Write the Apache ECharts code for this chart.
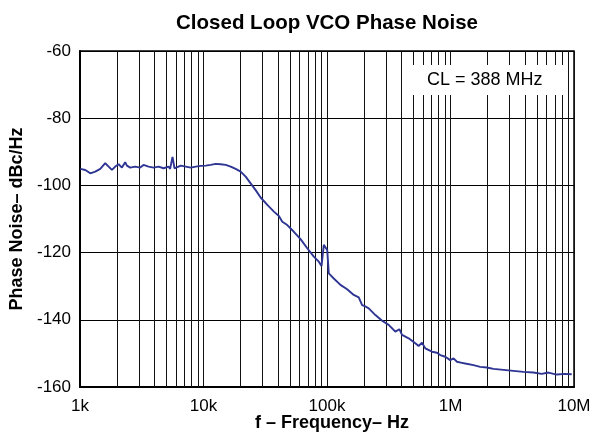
<!DOCTYPE html>
<html>
<head>
<meta charset="utf-8">
<script src="https://cdn.jsdelivr.net/npm/echarts@6/dist/echarts.min.js"></script>
<style>html,body{margin:0;padding:0;background:#fff;}#c{width:595px;height:441px;}</style>
</head>
<body>
<div id="c"></div>
<script>
// Frequency (Hz) and phase noise (dBc/Hz)
const freqHz = [1006,1104,1211,1329,1459,1601,1706,1814,1929,2054,2185,2323,2398,2550,2798,3071,3271,3592,3941,4325,4747,5209,5366,5611,5824,5967,6549,7187,7889,8658,9502,10430,11440,12560,13780,15130,16600,18220,20000,21950,24090,26440,29010,32870,37160,40780,43450,47690,53920,61070,69180,78220,85850,90280,94220,97250,100400,103400,113500,128500,145600,164700,180700,186600,192500,202100,217700,246600,279300,315800,357700,385400,405300,458100,519100,551900,587900,625200,708300,777300,826500,907100,995400,1058000,1128000,1238000,1316000,1358000,1536000,1740000,1970000,2228000,2684000,3232000,3894000,4690000,5483000,6199000,7248000,8459000,9581000];
const noiseDb = [-95.1,-95.4,-96.4,-95.9,-95.1,-93.4,-94.4,-95.4,-94.4,-93.7,-94.7,-93.1,-94.1,-94.7,-94.4,-94.7,-93.9,-94.4,-94.7,-94.4,-94.9,-94.4,-95.1,-91.5,-94.9,-94.7,-94.1,-94.4,-94.7,-94.4,-94.2,-94.1,-93.9,-93.6,-93.7,-93.9,-94.4,-95.1,-95.9,-97.4,-99.4,-101.4,-103.6,-105.8,-107.8,-109.1,-110.8,-111.8,-113.8,-116.0,-118.7,-121.2,-122.7,-124.0,-117.7,-117.4,-119.2,-126.2,-127.7,-129.6,-130.9,-132.6,-133.3,-133.6,-135.6,-135.9,-136.6,-138.6,-140.3,-141.5,-143.5,-142.8,-144.5,-145.5,-147.0,-147.8,-146.8,-148.5,-149.5,-149.8,-150.5,-151.0,-152.0,-151.5,-152.5,-152.8,-153.0,-153.5,-153.5,-154.0,-154.2,-154.6,-154.9,-155.2,-155.5,-155.7,-156.1,-155.7,-156.3,-156.1,-156.2];
const xTickValues = [1000,10000,100000,1000000,10000000];
const xTickLabels = ['1k','10k','100k','1M','10M'];
const minorMultipliers = [2,3,4,5,6,7,8,9];
const annotationText = 'CL = 388 MHz';
const titleText = 'Closed Loop VCO Phase Noise';
const xName = 'f \u2013 Frequency\u2013 Hz';
const yName = 'Phase Noise\u2013 dBc/Hz';

const minorLines = [];
for (let d = 0; d < xTickValues.length - 1; d++) {
  for (const m of minorMultipliers) minorLines.push({ xAxis: xTickValues[d] * m });
}
const seriesData = freqHz.map((f, i) => [f, noiseDb[i]]);

const FONT = '"Liberation Sans", Arial, sans-serif';
const chart = echarts.init(document.getElementById('c'), null, { renderer: 'canvas' });
chart.setOption({
  animation: false,
  backgroundColor: '#fff',
  title: {
    text: titleText, left: 322, top: 8, textAlign: 'center',
    textStyle: { fontFamily: FONT, fontSize: 20.5, fontWeight: 'bold', color: '#000' }
  },
  grid: { left: 79, right: 21, top: 51, bottom: 54, show: true, borderColor: '#000', borderWidth: 1.5, backgroundColor: 'transparent' },
  xAxis: {
    type: 'log', logBase: 10, min: 1000, max: 10000000,
    axisLine: { show: true, lineStyle: { color: '#000', width: 2 } },
    axisTick: { show: false },
    axisLabel: {
      margin: 11, fontFamily: FONT, fontSize: 17, color: '#000',
      formatter: v => { const i = xTickValues.findIndex(t => Math.abs(t - v) / t < 1e-6); return i >= 0 ? xTickLabels[i] : ''; }
    },
    splitLine: { show: true, lineStyle: { color: '#111', width: 1 } }
  },
  yAxis: {
    type: 'value', min: -160, max: -60, interval: 20,
    name: yName, nameLocation: 'middle', nameGap: 54, nameRotate: 90,
    nameTextStyle: { fontFamily: FONT, fontSize: 18, fontWeight: 'bold', color: '#000' },
    axisLine: { show: true, lineStyle: { color: '#000', width: 2 } },
    axisTick: { show: false },
    axisLabel: { margin: 9, fontFamily: FONT, fontSize: 17, color: '#000' },
    splitLine: { show: true, lineStyle: { color: '#000', width: 1 } }
  },
  series: [
    {
      type: 'line', data: [], z: 1, silent: true,
      markLine: {
        silent: true, symbol: ['none', 'none'], label: { show: false },
        lineStyle: { color: '#111', width: 1, type: 'solid' },
        emphasis: { disabled: true },
        data: minorLines
      }
    },
    {
      type: 'line', data: seriesData, z: 5, showSymbol: false, symbol: 'none',
      lineStyle: { color: '#2e3593', width: 1.9 }
    }
  ],
  graphic: [
    { type: 'rect', left: 412, top: 65, z: 100, shape: { width: 152, height: 30 }, style: { fill: '#ffffff' } },
    { type: 'text', left: 427, top: 71, z: 101, style: { text: annotationText, font: '18px ' + FONT, fill: '#000' } },
    { type: 'text', left: 255, top: 414, z: 101, style: { text: xName, font: 'bold 18px ' + FONT, fill: '#000' } }
  ]
});
</script>
</body>
</html>
